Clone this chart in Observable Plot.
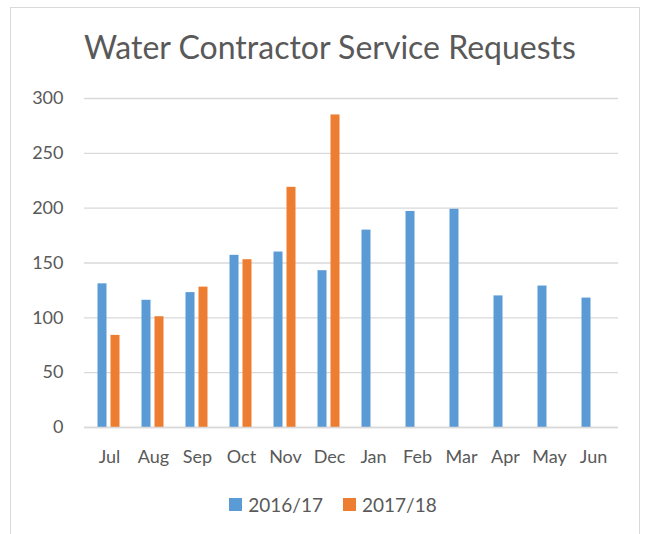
<!DOCTYPE html>
<html>
<head>
<meta charset="utf-8">
<script src="https://cdn.jsdelivr.net/npm/d3@7"></script>
<script src="https://cdn.jsdelivr.net/npm/@observablehq/plot@0.6"></script>
<style>
  html, body { margin: 0; padding: 0; background: #fff; }
  body { width: 646px; height: 534px; position: relative; overflow: hidden; font-family: Lato, "Open Sans", sans-serif; color: #595959; }
  #frame { position: absolute; left: 10px; top: 7px; width: 630px; height: 540px; border: 1px solid #d9d9d9; box-sizing: border-box; }
  #title { position: absolute; left: 0; width: 660px; top: 27px; text-align: center; font-size: 32px; line-height: 40px; color: #595959; }
  #chart { position: absolute; left: 0; top: 70px; }
  #legend { position: absolute; left: 0; width: 666px; top: 493px; display: flex; justify-content: center; align-items: center; font-size: 19px; color: #595959; }
  .sw { display: inline-block; width: 13px; height: 13px; margin-right: 6px; }
  .item { display: inline-flex; align-items: center; margin: 0 10px; }
</style>
</head>
<body>
<div id="frame"></div>
<div id="title">Water Contractor Service Requests</div>
<div id="chart"></div>
<div id="legend"></div>
<script>
const months = ["Jul","Aug","Sep","Oct","Nov","Dec","Jan","Feb","Mar","Apr","May","Jun"];
const series = ["2016/17","2017/18"];
const values1617 = [131,116,123,157,160,143,180,197,199,120,129,118];
const values1718 = [84,101,128,153,219,285,null,null,null,null,null,null];
const yTicks = [0,50,100,150,200,250,300];
const colors = ["#5b9bd5","#ed7d31"];

const data1617 = months.map((m,i) => ({month: m, series: series[0], value: values1617[i]})).filter(d => d.value != null);
const data1718 = months.map((m,i) => ({month: m, series: series[1], value: values1718[i]})).filter(d => d.value != null);

const chart = Plot.plot({
  width: 646,
  height: 402,
  marginLeft: 84,
  marginRight: 28,
  marginTop: 28,
  marginBottom: 45,
  style: {fontFamily: "Lato, 'Open Sans', sans-serif", fontSize: "18px", color: "#595959", background: "transparent"},
  x: {domain: months, padding: 0, label: null},
  y: {domain: [0,300], label: null},
  color: {domain: series, range: colors},
  marks: [
    Plot.gridY(yTicks, {stroke: "#d9d9d9", strokeOpacity: 1, strokeWidth: 1.4}),
    Plot.axisY(yTicks, {tickSize: 0, tickPadding: 21, fontSize: 18, fill: "#595959", label: null}),
    Plot.axisX({tickSize: 0, tickPadding: 23, fontSize: 18, fill: "#595959", label: null}),
    Plot.barY(data1617, {x: "month", y: "value", fill: "series", insetLeft: 10.5, insetRight: 24.5}),
    Plot.barY(data1718, {x: "month", y: "value", fill: "series", insetLeft: 23.5, insetRight: 11.5}),
    Plot.ruleY([0], {stroke: "#d9d9d9", strokeWidth: 1.6})
  ]
});
document.getElementById("chart").appendChild(chart);

const legend = document.getElementById("legend");
series.forEach((s,i) => {
  const item = document.createElement("span");
  item.className = "item";
  const sw = document.createElement("span");
  sw.className = "sw";
  sw.style.background = colors[i];
  item.appendChild(sw);
  item.appendChild(document.createTextNode(s));
  legend.appendChild(item);
});
</script>
</body>
</html>
